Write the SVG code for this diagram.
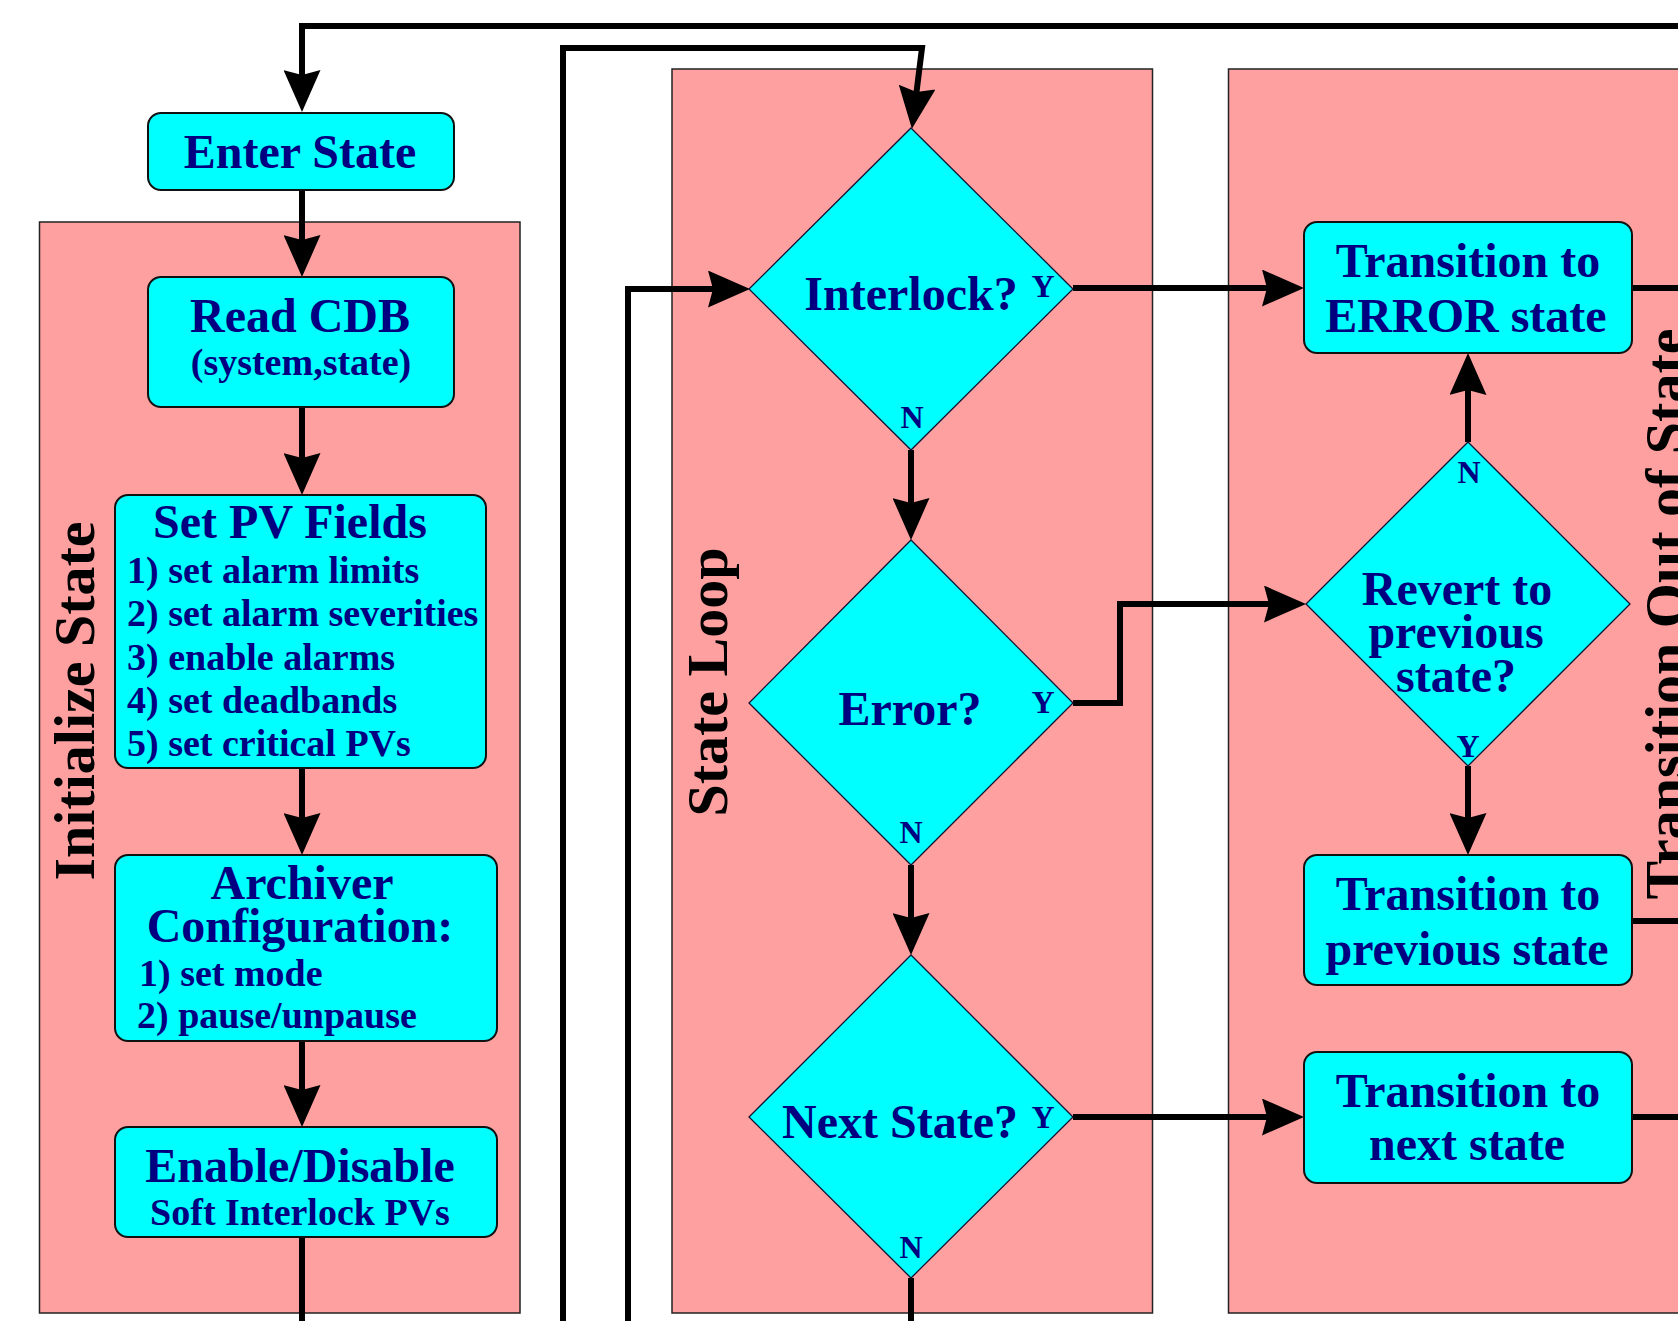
<svg xmlns="http://www.w3.org/2000/svg" width="1678" height="1321" viewBox="0 0 1678 1321">
<style>
.panel{fill:#FFA0A0;stroke:#222;stroke-width:1.5}
.box{fill:#00FFFF;stroke:#111;stroke-width:2}
.dia{fill:#00FFFF;stroke:#113;stroke-width:1.3}
.t{font-family:"Liberation Serif","Times New Roman",serif;font-weight:bold;fill:#000080}
.big{font-size:48px}
.sm{font-size:38px}
.yn{font-size:32px}
.lbl{font-family:"Liberation Serif","Times New Roman",serif;font-weight:bold;font-size:58px;fill:#000}
.c{text-anchor:middle}
.conn{fill:none;stroke:#000;stroke-width:6}
</style>
<defs>
<marker id="arr" viewBox="0 0 42 37" markerWidth="42" markerHeight="37" refX="5" refY="18.5" orient="auto" markerUnits="userSpaceOnUse">
<path d="M0,0 L42,18.5 L0,37 L5,18.5 Z" fill="#000"/>
</marker>
</defs>
<rect width="1678" height="1321" fill="#fff"/>
<g id="panels">
<g id="panel-init"><rect class="panel" x="39.5" y="222" width="480.5" height="1091"/>
<text class="lbl c" transform="translate(94,701) rotate(-90)">Initialize State</text></g>
<g id="panel-loop"><rect class="panel" x="672" y="69" width="480.5" height="1244"/>
<text class="lbl c" transform="translate(727,682) rotate(-90)">State Loop</text></g>
<g id="panel-trans"><rect class="panel" x="1228.5" y="69" width="520" height="1244"/></g>
</g>
<g id="connectors">
<path class="conn" d="M1678,26 L302,26 L302,75" marker-end="url(#arr)"/>
<path class="conn" d="M302,190 L302,240" marker-end="url(#arr)"/>
<path class="conn" d="M302,407 L302,458" marker-end="url(#arr)"/>
<path class="conn" d="M302,768 L302,818" marker-end="url(#arr)"/>
<path class="conn" d="M302,1041 L302,1090" marker-end="url(#arr)"/>
<path class="conn" d="M302,1237 L302,1321"/>
<path class="conn" d="M563,1321 L563,48 L922,48 L916.5,92" marker-end="url(#arr)"/>
<path class="conn" d="M628,1321 L628,289 L713,289" marker-end="url(#arr)"/>
<path class="conn" d="M911,450 L911,503" marker-end="url(#arr)"/>
<path class="conn" d="M911,865 L911,918" marker-end="url(#arr)"/>
<path class="conn" d="M911,1278 L911,1321"/>
<path class="conn" d="M1073,288 L1267,288" marker-end="url(#arr)"/>
<path class="conn" d="M1073,703 L1120,703 L1120,604 L1269,604" marker-end="url(#arr)"/>
<path class="conn" d="M1468,442 L1468,390" marker-end="url(#arr)"/>
<path class="conn" d="M1468,766 L1468,818" marker-end="url(#arr)"/>
<path class="conn" d="M1073,1117 L1267,1117" marker-end="url(#arr)"/>
<path class="conn" d="M1632,288 L1678,288"/>
<path class="conn" d="M1632,921 L1678,921"/>
<path class="conn" d="M1632,1117 L1678,1117"/>
</g>
<g id="enter-state"><rect class="box" x="148" y="113" width="306" height="77" rx="13"/>
<text class="t big c" x="300" y="168">Enter State</text></g>
<g id="read-cdb"><rect class="box" x="148" y="277" width="306" height="130" rx="13"/>
<text class="t big c" x="300" y="332">Read CDB</text>
<text class="t sm c" x="301" y="375">(system,state)</text></g>
<g id="set-pv"><rect class="box" x="115" y="495" width="371" height="273" rx="13"/>
<text class="t big c" x="290" y="538">Set PV Fields</text>
<text class="t sm" x="127" y="583">1) set alarm limits</text>
<text class="t sm" x="127" y="626">2) set alarm severities</text>
<text class="t sm" x="127" y="670">3) enable alarms</text>
<text class="t sm" x="127" y="713">4) set deadbands</text>
<text class="t sm" x="127" y="756">5) set critical PVs</text></g>
<g id="archiver"><rect class="box" x="115" y="855" width="382" height="186" rx="13"/>
<text class="t big c" x="302" y="899">Archiver</text>
<text class="t big c" x="300" y="942">Configuration:</text>
<text class="t sm" x="139" y="986">1) set mode</text>
<text class="t sm" x="137" y="1028">2) pause/unpause</text></g>
<g id="enable-disable"><rect class="box" x="115" y="1127" width="382" height="110" rx="13"/>
<text class="t big c" x="300" y="1182">Enable/Disable</text>
<text class="t sm c" x="300" y="1225">Soft Interlock PVs</text></g>
<g id="interlock"><path class="dia" d="M911,128 L1073,289 L911,450 L749,289 Z"/>
<text class="t big c" x="911" y="310">Interlock?</text>
<text class="t yn c" x="1043" y="297">Y</text>
<text class="t yn c" x="912" y="428">N</text></g>
<g id="error"><path class="dia" d="M911,540 L1073,703 L911,865 L749,703 Z"/>
<text class="t big c" x="910" y="725">Error?</text>
<text class="t yn c" x="1043" y="713">Y</text>
<text class="t yn c" x="911" y="843">N</text></g>
<g id="next-state"><path class="dia" d="M911,955 L1073,1117 L911,1278 L749,1117 Z"/>
<text class="t big c" x="900" y="1138">Next State?</text>
<text class="t yn c" x="1043" y="1128">Y</text>
<text class="t yn c" x="911" y="1258">N</text></g>
<g id="to-error"><rect class="box" x="1304" y="222" width="328" height="131" rx="13"/>
<text class="t big c" x="1468" y="277">Transition to</text>
<text class="t big c" x="1466" y="332">ERROR state</text></g>
<g id="revert"><path class="dia" d="M1468,442 L1630,604 L1468,766 L1306,604 Z"/>
<text class="t big c" x="1457" y="605">Revert to</text>
<text class="t big c" x="1456" y="648">previous</text>
<text class="t big c" x="1456" y="692">state?</text>
<text class="t yn c" x="1469" y="483">N</text>
<text class="t yn c" x="1468" y="757">Y</text></g>
<g id="to-previous"><rect class="box" x="1304" y="855" width="328" height="130" rx="13"/>
<text class="t big c" x="1468" y="910">Transition to</text>
<text class="t big c" x="1467" y="965">previous state</text></g>
<g id="to-next"><rect class="box" x="1304" y="1052" width="328" height="131" rx="13"/>
<text class="t big c" x="1468" y="1107">Transition to</text>
<text class="t big c" x="1467" y="1160">next state</text></g>
<g id="trans-label"><text class="lbl c" transform="translate(1685,614) rotate(-90)">Transition Out of State</text></g>
</svg>
